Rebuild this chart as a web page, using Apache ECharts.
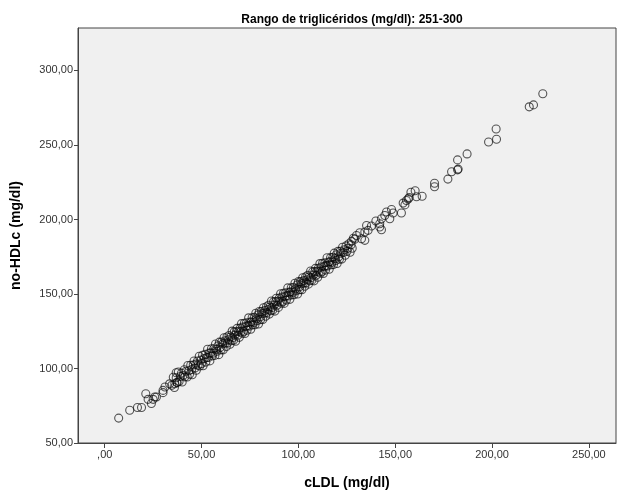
<!DOCTYPE html>
<html>
<head>
<meta charset="utf-8">
<script src="https://cdn.jsdelivr.net/npm/echarts@6/dist/echarts.min.js"></script>
<style>html,body{margin:0;padding:0;background:#fff}#c{width:629px;height:495px}</style>
</head>
<body>
<div id="c"></div>
<script>
var titleText = 'Rango de triglicéridos (mg/dl): 251-300';
var xName = 'cLDL (mg/dl)';
var yName = 'no-HDLc (mg/dl)';
var xTicks = [0, 50, 100, 150, 200, 250];
var yTicks = [50, 100, 150, 200, 250, 300];

var cldl = [
7.2,12.9,16.9,19.0,21.2,22.4,24.1,25.0,25.8,26.7,30.1,30.1,31.1,36.2,36.9,37.3,
33.5,34.6,35.4,36.0,36.9,37.3,38.0,38.4,39.1,39.6,40.0,40.5,41.1,41.4,42.0,42.6,42.9,43.5,43.8,44.4,
44.9,45.2,45.7,46.1,46.6,47.0,47.3,47.9,48.2,48.8,49.1,49.6,50.0,50.5,50.8,51.3,51.9,52.2,52.6,53.1,
53.5,53.9,54.3,54.8,55.1,55.6,56.0,56.3,56.9,57.2,57.7,58.0,58.4,58.9,59.2,59.6,60.1,60.4,60.9,61.2,
61.6,62.0,62.3,62.8,63.1,63.5,63.9,64.2,64.7,65.0,65.4,65.8,66.1,66.5,66.9,67.2,67.6,68.0,68.3,68.8,
69.1,69.5,69.9,70.2,70.6,71.0,71.3,71.7,72.1,72.4,72.8,73.2,73.5,73.9,74.3,74.6,75.0,75.4,75.7,76.1,
76.5,76.8,77.2,77.6,78.0,78.3,78.7,79.1,79.4,79.8,80.2,80.5,80.9,81.3,81.6,82.0,82.4,82.7,83.1,83.5,
83.8,84.2,84.6,85.0,85.3,85.7,86.1,86.4,86.8,87.2,87.5,87.9,88.3,88.6,89.0,89.4,89.7,90.1,90.5,90.8,
91.2,91.6,91.9,92.3,92.7,93.0,93.4,93.8,94.1,94.5,94.9,95.2,95.6,96.0,96.3,96.7,97.1,97.4,97.8,98.2,
98.5,98.9,99.3,99.6,100.0,100.4,100.7,101.1,101.5,101.8,102.2,102.6,102.9,103.3,103.7,104.0,104.4,104.8,105.2,105.5,
105.9,106.3,106.6,107.0,107.4,107.7,108.1,108.5,108.8,109.2,109.6,110.0,110.3,110.7,111.1,111.4,111.8,112.2,112.5,112.9,
113.3,113.7,114.0,114.4,114.8,115.1,115.5,115.9,116.3,116.6,117.0,117.4,117.8,118.1,118.5,118.9,119.3,119.6,120.0,120.4,
120.8,121.2,121.6,122.0,122.4,122.8,123.3,123.7,124.2,124.6,125.1,125.6,126.1,126.7,127.2,127.8,128.4,
127.4,129.1,130.0,131.7,132.6,134.3,134.3,135.2,136.0,137.7,140.0,142.0,142.0,142.9,142.9,144.6,145.5,147.2,148.1,148.9,
153.2,154.1,155.0,155.8,156.7,157.2,158.1,160.3,161.0,163.9,170.3,170.3,177.2,179.1,182.2,182.5,182.2,187.1,198.2,202.1,
202.3,219.2,221.4,226.2
];
var nohdl = [
66.7,72.0,73.8,73.8,83.1,79.3,76.5,79.3,80.9,80.9,83.8,85.3,87.6,89.8,97.1,90.5,
89.7,88.7,94.1,87.2,93.8,90.7,97.6,91.2,94.6,96.9,90.9,95.3,99.2,94.4,98.2,94.3,102.0,98.5,96.1,102.2,
99.3,95.8,102.3,105.0,100.3,102.9,98.8,105.0,102.2,108.2,101.7,105.6,103.3,108.9,101.8,106.6,109.5,104.3,107.3,112.9,
107.4,110.3,105.1,110.5,113.3,108.5,110.2,113.3,108.8,116.4,112.8,111.6,115.2,109.3,117.7,114.1,112.5,117.8,116.5,112.5,
120.6,116.9,118.6,114.8,121.1,117.3,119.3,122.1,116.3,121.1,118.6,125.1,120.7,119.0,124.6,122.4,118.3,124.7,126.9,122.3,
124.9,120.9,127.1,124.5,130.1,123.7,127.8,124.8,130.4,123.5,128.2,130.7,125.7,128.8,134.0,128.4,131.0,126.3,131.3,134.1,
129.3,130.9,134.3,129.4,137.1,133.3,132.1,136.0,129.9,138.2,134.6,132.8,138.2,136.8,132.8,140.8,137.1,138.9,135.1,141.4,
137.5,139.5,142.4,136.5,141.3,138.8,145.3,140.9,139.2,144.8,142.6,138.5,144.9,147.1,142.4,145.1,141.0,147.2,144.7,150.2,
143.8,148.0,144.9,150.5,143.7,148.3,150.8,145.9,148.9,154.1,148.6,151.1,146.4,151.5,154.2,149.4,151.1,154.4,149.5,157.2,
153.4,152.2,156.1,150.0,158.3,154.7,152.9,158.3,156.9,152.9,160.9,157.2,159.0,155.2,161.5,157.6,159.6,162.5,156.6,161.4,
158.9,165.4,161.0,159.3,164.9,162.7,158.8,165.0,167.2,162.5,165.2,161.2,167.3,164.8,170.4,163.9,168.1,165.1,170.6,163.8,
168.5,171.0,166.0,169.1,174.3,168.7,171.3,166.6,171.7,174.4,169.6,171.3,174.7,169.7,177.4,173.7,172.5,176.3,170.5,178.6,
175.0,173.3,178.7,177.3,173.4,181.4,177.8,179.7,176.0,182.3,178.6,180.7,183.7,178.0,183.0,180.7,187.4,
185.3,186.7,189.3,191.1,187.1,191.6,186.0,196.0,192.7,195.6,199.0,197.1,195.0,193.1,200.5,202.7,205.0,200.5,206.7,204.3,
204.3,211.0,209.8,212.7,213.8,214.7,218.3,219.3,215.3,215.6,224.3,222.0,227.1,232.0,233.3,233.8,240.0,244.0,252.0,260.7,
253.8,275.6,276.9,284.4
];

var pts = cldl.map(function (x, i) { return [x, nohdl[i]]; });
function fmt(v) { return v === 0 ? ',00' : v.toFixed(2).replace('.', ','); }
var FF = 'Liberation Sans, Arial, sans-serif';

var chart = echarts.init(document.getElementById('c'), null, { renderer: 'canvas' });
chart.setOption({
  animation: false,
  backgroundColor: '#ffffff',
  title: {
    text: titleText,
    left: 347, top: 9, textAlign: 'center',
    textStyle: { fontFamily: FF, fontSize: 12, fontWeight: 'bold', color: '#000' }
  },
  grid: {
    left: 78, right: 13, top: 28, bottom: 50,
    show: true, backgroundColor: '#f0f0f0', borderColor: '#444', borderWidth: 1
  },
  xAxis: {
    type: 'value', min: -13.8, max: 264,
    name: xName, nameLocation: 'middle', nameGap: 33,
    nameTextStyle: { fontFamily: FF, fontSize: 14, fontWeight: 'bold', color: '#000' },
    axisLine: { show: true, onZero: false, lineStyle: { color: '#444' } },
    axisTick: { show: true, length: 5, lineStyle: { color: '#444' }, customValues: xTicks },
    axisLabel: { customValues: xTicks, formatter: fmt, color: '#333', fontSize: 11, margin: 6, fontFamily: FF },
    splitLine: { show: false }
  },
  yAxis: {
    type: 'value', min: 50, max: 328.5,
    name: yName, nameLocation: 'middle', nameGap: 55, nameRotate: 90,
    nameTextStyle: { fontFamily: FF, fontSize: 14, fontWeight: 'bold', color: '#000' },
    axisLine: { show: true, onZero: false, lineStyle: { color: '#444' } },
    axisTick: { show: true, length: 4, lineStyle: { color: '#444' }, customValues: yTicks },
    axisLabel: { customValues: yTicks, formatter: fmt, color: '#333', fontSize: 11, margin: 5, fontFamily: FF },
    splitLine: { show: false }
  },
  series: [{
    type: 'scatter',
    data: pts,
    symbol: 'circle',
    symbolSize: 8,
    itemStyle: { color: 'rgba(0,0,0,0)', borderColor: 'rgba(10,10,10,0.85)', borderWidth: 1.1 }
  }]
});
</script>
</body>
</html>
